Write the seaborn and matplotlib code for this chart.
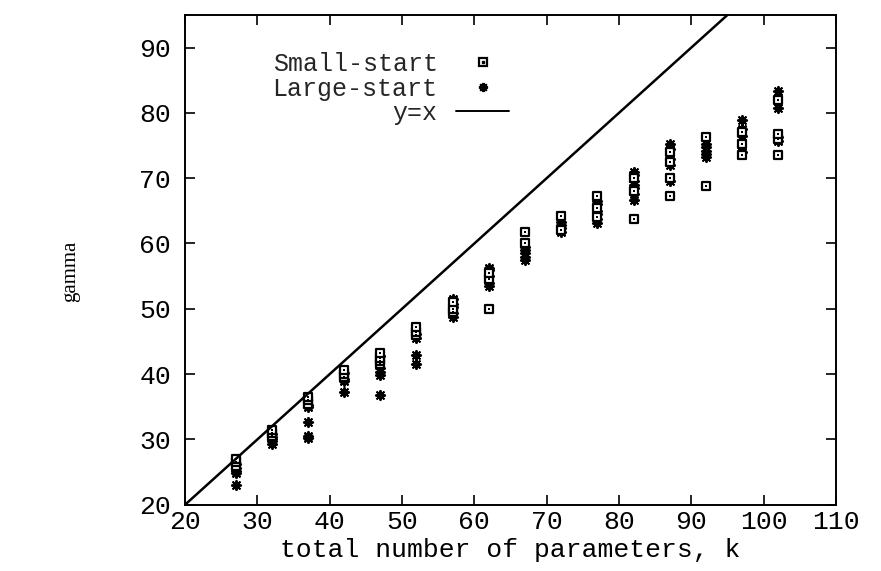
import matplotlib
matplotlib.use("Agg")
import matplotlib.pyplot as plt
import seaborn as sns
import pandas as pd
from matplotlib.lines import Line2D
from matplotlib.legend_handler import HandlerTuple

# ---- data ----
k_values = [27, 32, 37, 42, 47, 52, 57, 62, 67, 72, 77, 82, 87, 92, 97, 102]
small_start = [
    [26.0, 26.5, 27.0],
    [30.5, 31.0, 31.5],
    [35.5, 36.0, 36.5],
    [39.5, 40.0, 40.7],
    [41.5, 42.0, 42.5, 43.3],
    [46.0, 46.5, 47.2],
    [49.5, 50.0, 51.0],
    [50.0, 54.5, 55.5],
    [60.0, 61.7],
    [62.0, 64.2],
    [64.0, 65.5, 67.2],
    [63.7, 68.0, 70.0],
    [67.2, 70.0, 72.5, 74.0],
    [68.8, 76.3],
    [73.5, 75.2, 77.0],
    [73.5, 76.0, 76.8, 82.0],
]
large_start = [
    [23.0, 24.8, 25.2, 25.6, 26.2],
    [29.3, 29.7, 30.0, 30.3, 30.8],
    [30.2, 30.6, 32.6, 35.0, 35.3],
    [37.3, 39.0, 39.3, 40.2],
    [36.8, 39.8, 40.3, 41.0, 42.8],
    [41.6, 43.0, 45.5, 46.2],
    [48.8, 49.3, 50.3, 50.7, 51.5],
    [53.5, 54.0, 55.0, 56.0, 56.3],
    [57.5, 58.0, 58.5, 59.0, 59.5],
    [61.8, 62.3, 62.8, 63.3],
    [63.2, 63.7, 64.5, 65.0, 66.0, 66.5],
    [66.7, 67.5, 68.5, 69.0, 69.5, 70.5, 71.0],
    [69.5, 72.0, 73.0, 74.5, 75.2],
    [73.2, 73.7, 74.2, 74.7, 75.2],
    [74.0, 76.5, 77.5, 78.9],
    [75.7, 76.3, 80.8, 83.4],
]
line_x = [20, 110]
x_ticks = [20, 30, 40, 50, 60, 70, 80, 90, 100, 110]
y_ticks = [20, 30, 40, 50, 60, 70, 80, 90]
labels = ["Small-start", "Large-start", "y=x"]


def to_long(values):
    rows = []
    for k, vals in zip(k_values, values):
        for v in vals:
            rows.append({"k": k, "gamma": v})
    return pd.DataFrame(rows)


df_small = to_long(small_start)
df_large = to_long(large_start)
df_line = pd.DataFrame({"k": line_x, "gamma": line_x})

sns.set_theme(style="white")
mono = "Liberation Mono"
serif = "Liberation Serif"
fs = 19

fig = plt.figure(figsize=(8.81, 5.71), dpi=100)
ax = fig.add_axes([0.21, 0.116, 0.739, 0.858])

sns.lineplot(data=df_line, x="k", y="gamma", ax=ax, color="black", linewidth=1.8)
asterisk = (8, 2, 0)
sns.scatterplot(data=df_large, x="k", y="gamma", ax=ax, marker=asterisk, s=44,
                color="black", linewidth=1.4, edgecolor="black")
sns.scatterplot(data=df_small, x="k", y="gamma", ax=ax, marker="s", s=26,
                facecolor="white", edgecolor="black", linewidth=1.6)
sns.scatterplot(data=df_small, x="k", y="gamma", ax=ax, marker="s", s=2.5,
                color="black", linewidth=0)

ax.set_xlim(20, 110)
ax.set_ylim(20, 95)
ax.set_xticks(x_ticks)
ax.set_yticks(y_ticks)
ax.set_xticklabels([str(t) for t in x_ticks], fontfamily=mono, fontsize=fs)
ax.set_yticklabels([str(t) for t in y_ticks], fontfamily=mono, fontsize=fs)
ax.tick_params(axis="x", pad=4)
ax.tick_params(axis="y", pad=10)
ax.tick_params(direction="in", length=7, width=1.2, top=True, right=True,
               bottom=True, left=True, colors="black")
for sp in ax.spines.values():
    sp.set_visible(True)
    sp.set_color("black")
    sp.set_linewidth(1.4)

ax.set_xlabel("total number of parameters, k", fontfamily=mono, fontsize=fs,
              labelpad=3, color="black")
ax.set_ylabel("")
fig.text(0.08, 0.525, "gamma", rotation=90, fontfamily=serif, fontsize=15,
         ha="center", va="center", color="black")

h_small = (Line2D([], [], marker="s", linestyle="none", markersize=5.1,
                  markerfacecolor="white", markeredgecolor="black", markeredgewidth=1.6),
           Line2D([], [], marker="s", linestyle="none", markersize=1.6,
                  markerfacecolor="black", markeredgecolor="black"))
h_large = Line2D([], [], marker=asterisk, linestyle="none", markersize=6.6,
                 color="black", markeredgewidth=1.4)
h_line = Line2D([], [], color="black", linewidth=1.4)
leg = ax.legend([h_small, h_large, h_line], labels, markerfirst=False, frameon=False,
                loc="upper left", bbox_to_anchor=(0.1, 0.97),
                prop={"family": mono, "size": 18}, handlelength=2.1,
                handletextpad=0.75, labelspacing=0.02, alignment="right",
                handler_map={tuple: HandlerTuple(ndivide=1, pad=0)})
for t in leg.get_texts():
    t.set_ha("right")

fig.savefig("out.png", dpi=100, facecolor="white")
